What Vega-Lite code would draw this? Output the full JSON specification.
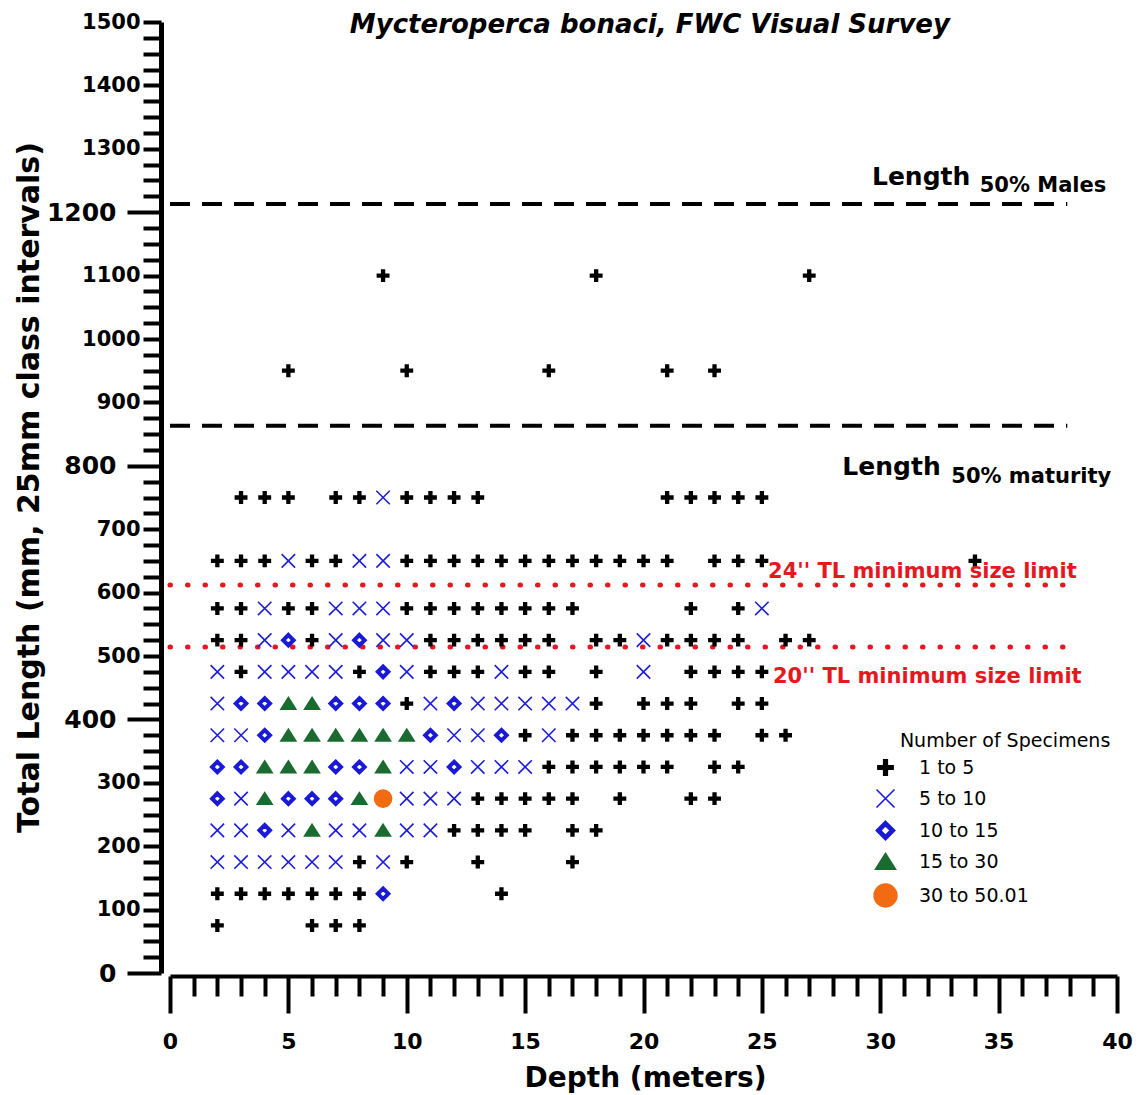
{
  "$schema": "https://vega.github.io/schema/vega-lite/v6.json",
  "autosize": {"type": "none"},
  "padding": {"left": 170, "top": 22, "right": 22, "bottom": 122},
  "width": 947,
  "height": 951,
  "background": "white",
  "config": {"view": {"stroke": null}},
  "encoding": {
    "x": {"field": "depth", "type": "quantitative", "scale": {"domain": [0, 40], "nice": false, "zero": false},
      "axis": {
        "values": [0,1,2,3,4,5,6,7,8,9,10,11,12,13,14,15,16,17,18,19,20,21,22,23,24,25,26,27,28,29,30,31,32,33,34,35,36,37,38,39,40],
        "format": "d",
        "labelExpr": "datum.value % 5 === 0 ? datum.label : ''",
        "offset": 3, "grid": false, "labelOverlap": false, "labelFlush": false,
        "domainWidth": 4, "domainColor": "#000",
        "tickWidth": 4, "tickColor": "#000",
        "tickSize": {"condition": {"test": "datum.value % 5 === 0", "value": 37}, "value": 20},
        "labelFont": "DejaVu Sans", "labelFontWeight": "bold", "labelFontSize": 22, "labelColor": "#000",
        "labelPadding": 18,
        "title": "Depth (meters)", "titleFont": "DejaVu Sans", "titleFontWeight": "bold", "titleFontSize": 28, "titleColor": "#000",
        "titleX": 475, "titleY": 110, "titleBaseline": "alphabetic", "titleAlign": "center"
      }},
    "y": {"field": "length", "type": "quantitative", "scale": {"domain": [0, 1500], "nice": false, "zero": false},
      "axis": {
        "values": [0,25,50,75,100,125,150,175,200,225,250,275,300,325,350,375,400,425,450,475,500,525,550,575,600,625,650,675,700,725,750,775,800,825,850,875,900,925,950,975,1000,1025,1050,1075,1100,1125,1150,1175,1200,1225,1250,1275,1300,1325,1350,1375,1400,1425,1450,1475,1500],
        "format": "d",
        "labelExpr": "datum.value % 100 === 0 ? datum.label : ''",
        "offset": 9, "grid": false, "labelOverlap": false,
        "domainWidth": 5, "domainColor": "#000",
        "tickWidth": 4, "tickColor": "#000",
        "tickSize": {"condition": {"test": "datum.value % 400 === 0", "value": 34}, "value": 18},
        "labelFont": "DejaVu Sans", "labelFontWeight": "bold", "labelColor": "#000",
        "labelFontSize": {"condition": {"test": "datum.value % 400 === 0", "value": 25}, "value": 21},
        "labelPadding": {"condition": {"test": "datum.value % 400 === 0", "value": 11}, "value": 3},
        "title": "Total Length (mm, 25mm class intervals)", "titleFont": "DejaVu Sans", "titleFontWeight": "bold", "titleFontSize": 30, "titleColor": "#000",
        "titleX": -123, "titleY": 465, "titleAngle": -90, "titleBaseline": "alphabetic", "titleAlign": "center"
      }}
  },
  "layer": [
    {
      "data": {"values": [
        {"depth": 0, "depth2": 37.9, "length": 1213},
        {"depth": 0, "depth2": 37.9, "length": 863}
      ]},
      "mark": {"type": "rule", "color": "#000", "strokeWidth": 4, "strokeDash": [20, 12]},
      "encoding": {"x2": {"field": "depth2"}}
    },
    {
      "data": {"values": [
        {"depth": 0, "depth2": 38.2, "length": 612},
        {"depth": 0, "depth2": 38.2, "length": 514}
      ]},
      "mark": {"type": "rule", "color": "#e5171f", "strokeWidth": 5, "strokeCap": "round", "strokeDash": [0.5, 17]},
      "encoding": {"x2": {"field": "depth2"}}
    },
    {
      "data": {"values": [
        {"depth": 9, "length": 1100, "n": "1 to 5"},
        {"depth": 18, "length": 1100, "n": "1 to 5"},
        {"depth": 27, "length": 1100, "n": "1 to 5"},
        {"depth": 5, "length": 950, "n": "1 to 5"},
        {"depth": 10, "length": 950, "n": "1 to 5"},
        {"depth": 16, "length": 950, "n": "1 to 5"},
        {"depth": 21, "length": 950, "n": "1 to 5"},
        {"depth": 23, "length": 950, "n": "1 to 5"},
        {"depth": 3, "length": 750, "n": "1 to 5"},
        {"depth": 4, "length": 750, "n": "1 to 5"},
        {"depth": 5, "length": 750, "n": "1 to 5"},
        {"depth": 7, "length": 750, "n": "1 to 5"},
        {"depth": 8, "length": 750, "n": "1 to 5"},
        {"depth": 9, "length": 750, "n": "5 to 10"},
        {"depth": 10, "length": 750, "n": "1 to 5"},
        {"depth": 11, "length": 750, "n": "1 to 5"},
        {"depth": 12, "length": 750, "n": "1 to 5"},
        {"depth": 13, "length": 750, "n": "1 to 5"},
        {"depth": 21, "length": 750, "n": "1 to 5"},
        {"depth": 22, "length": 750, "n": "1 to 5"},
        {"depth": 23, "length": 750, "n": "1 to 5"},
        {"depth": 24, "length": 750, "n": "1 to 5"},
        {"depth": 25, "length": 750, "n": "1 to 5"},
        {"depth": 2, "length": 650, "n": "1 to 5"},
        {"depth": 3, "length": 650, "n": "1 to 5"},
        {"depth": 4, "length": 650, "n": "1 to 5"},
        {"depth": 5, "length": 650, "n": "5 to 10"},
        {"depth": 6, "length": 650, "n": "1 to 5"},
        {"depth": 7, "length": 650, "n": "1 to 5"},
        {"depth": 8, "length": 650, "n": "5 to 10"},
        {"depth": 9, "length": 650, "n": "5 to 10"},
        {"depth": 10, "length": 650, "n": "1 to 5"},
        {"depth": 11, "length": 650, "n": "1 to 5"},
        {"depth": 12, "length": 650, "n": "1 to 5"},
        {"depth": 13, "length": 650, "n": "1 to 5"},
        {"depth": 14, "length": 650, "n": "1 to 5"},
        {"depth": 15, "length": 650, "n": "1 to 5"},
        {"depth": 16, "length": 650, "n": "1 to 5"},
        {"depth": 17, "length": 650, "n": "1 to 5"},
        {"depth": 18, "length": 650, "n": "1 to 5"},
        {"depth": 19, "length": 650, "n": "1 to 5"},
        {"depth": 20, "length": 650, "n": "1 to 5"},
        {"depth": 21, "length": 650, "n": "1 to 5"},
        {"depth": 23, "length": 650, "n": "1 to 5"},
        {"depth": 24, "length": 650, "n": "1 to 5"},
        {"depth": 25, "length": 650, "n": "1 to 5"},
        {"depth": 34, "length": 650, "n": "1 to 5"},
        {"depth": 2, "length": 575, "n": "1 to 5"},
        {"depth": 3, "length": 575, "n": "1 to 5"},
        {"depth": 4, "length": 575, "n": "5 to 10"},
        {"depth": 5, "length": 575, "n": "1 to 5"},
        {"depth": 6, "length": 575, "n": "1 to 5"},
        {"depth": 7, "length": 575, "n": "5 to 10"},
        {"depth": 8, "length": 575, "n": "5 to 10"},
        {"depth": 9, "length": 575, "n": "5 to 10"},
        {"depth": 10, "length": 575, "n": "1 to 5"},
        {"depth": 11, "length": 575, "n": "1 to 5"},
        {"depth": 12, "length": 575, "n": "1 to 5"},
        {"depth": 13, "length": 575, "n": "1 to 5"},
        {"depth": 14, "length": 575, "n": "1 to 5"},
        {"depth": 15, "length": 575, "n": "1 to 5"},
        {"depth": 16, "length": 575, "n": "1 to 5"},
        {"depth": 17, "length": 575, "n": "1 to 5"},
        {"depth": 22, "length": 575, "n": "1 to 5"},
        {"depth": 24, "length": 575, "n": "1 to 5"},
        {"depth": 25, "length": 575, "n": "5 to 10"},
        {"depth": 2, "length": 525, "n": "1 to 5"},
        {"depth": 3, "length": 525, "n": "1 to 5"},
        {"depth": 4, "length": 525, "n": "5 to 10"},
        {"depth": 5, "length": 525, "n": "10 to 15"},
        {"depth": 6, "length": 525, "n": "1 to 5"},
        {"depth": 7, "length": 525, "n": "5 to 10"},
        {"depth": 8, "length": 525, "n": "10 to 15"},
        {"depth": 9, "length": 525, "n": "5 to 10"},
        {"depth": 10, "length": 525, "n": "5 to 10"},
        {"depth": 11, "length": 525, "n": "1 to 5"},
        {"depth": 12, "length": 525, "n": "1 to 5"},
        {"depth": 13, "length": 525, "n": "1 to 5"},
        {"depth": 14, "length": 525, "n": "1 to 5"},
        {"depth": 15, "length": 525, "n": "1 to 5"},
        {"depth": 16, "length": 525, "n": "1 to 5"},
        {"depth": 18, "length": 525, "n": "1 to 5"},
        {"depth": 19, "length": 525, "n": "1 to 5"},
        {"depth": 20, "length": 525, "n": "5 to 10"},
        {"depth": 21, "length": 525, "n": "1 to 5"},
        {"depth": 22, "length": 525, "n": "1 to 5"},
        {"depth": 23, "length": 525, "n": "1 to 5"},
        {"depth": 24, "length": 525, "n": "1 to 5"},
        {"depth": 26, "length": 525, "n": "1 to 5"},
        {"depth": 27, "length": 525, "n": "1 to 5"},
        {"depth": 2, "length": 475, "n": "5 to 10"},
        {"depth": 3, "length": 475, "n": "1 to 5"},
        {"depth": 4, "length": 475, "n": "5 to 10"},
        {"depth": 5, "length": 475, "n": "5 to 10"},
        {"depth": 6, "length": 475, "n": "5 to 10"},
        {"depth": 7, "length": 475, "n": "5 to 10"},
        {"depth": 8, "length": 475, "n": "1 to 5"},
        {"depth": 9, "length": 475, "n": "10 to 15"},
        {"depth": 10, "length": 475, "n": "5 to 10"},
        {"depth": 11, "length": 475, "n": "1 to 5"},
        {"depth": 12, "length": 475, "n": "1 to 5"},
        {"depth": 13, "length": 475, "n": "1 to 5"},
        {"depth": 14, "length": 475, "n": "5 to 10"},
        {"depth": 15, "length": 475, "n": "1 to 5"},
        {"depth": 16, "length": 475, "n": "1 to 5"},
        {"depth": 18, "length": 475, "n": "1 to 5"},
        {"depth": 20, "length": 475, "n": "5 to 10"},
        {"depth": 22, "length": 475, "n": "1 to 5"},
        {"depth": 23, "length": 475, "n": "1 to 5"},
        {"depth": 24, "length": 475, "n": "1 to 5"},
        {"depth": 25, "length": 475, "n": "1 to 5"},
        {"depth": 2, "length": 425, "n": "5 to 10"},
        {"depth": 3, "length": 425, "n": "10 to 15"},
        {"depth": 4, "length": 425, "n": "10 to 15"},
        {"depth": 5, "length": 425, "n": "15 to 30"},
        {"depth": 6, "length": 425, "n": "15 to 30"},
        {"depth": 7, "length": 425, "n": "10 to 15"},
        {"depth": 8, "length": 425, "n": "10 to 15"},
        {"depth": 9, "length": 425, "n": "10 to 15"},
        {"depth": 10, "length": 425, "n": "1 to 5"},
        {"depth": 11, "length": 425, "n": "5 to 10"},
        {"depth": 12, "length": 425, "n": "10 to 15"},
        {"depth": 13, "length": 425, "n": "5 to 10"},
        {"depth": 14, "length": 425, "n": "5 to 10"},
        {"depth": 15, "length": 425, "n": "5 to 10"},
        {"depth": 16, "length": 425, "n": "5 to 10"},
        {"depth": 17, "length": 425, "n": "5 to 10"},
        {"depth": 18, "length": 425, "n": "1 to 5"},
        {"depth": 20, "length": 425, "n": "1 to 5"},
        {"depth": 21, "length": 425, "n": "1 to 5"},
        {"depth": 22, "length": 425, "n": "1 to 5"},
        {"depth": 24, "length": 425, "n": "1 to 5"},
        {"depth": 25, "length": 425, "n": "1 to 5"},
        {"depth": 2, "length": 375, "n": "5 to 10"},
        {"depth": 3, "length": 375, "n": "5 to 10"},
        {"depth": 4, "length": 375, "n": "10 to 15"},
        {"depth": 5, "length": 375, "n": "15 to 30"},
        {"depth": 6, "length": 375, "n": "15 to 30"},
        {"depth": 7, "length": 375, "n": "15 to 30"},
        {"depth": 8, "length": 375, "n": "15 to 30"},
        {"depth": 9, "length": 375, "n": "15 to 30"},
        {"depth": 10, "length": 375, "n": "15 to 30"},
        {"depth": 11, "length": 375, "n": "10 to 15"},
        {"depth": 12, "length": 375, "n": "5 to 10"},
        {"depth": 13, "length": 375, "n": "5 to 10"},
        {"depth": 14, "length": 375, "n": "10 to 15"},
        {"depth": 15, "length": 375, "n": "1 to 5"},
        {"depth": 16, "length": 375, "n": "5 to 10"},
        {"depth": 17, "length": 375, "n": "1 to 5"},
        {"depth": 18, "length": 375, "n": "1 to 5"},
        {"depth": 19, "length": 375, "n": "1 to 5"},
        {"depth": 20, "length": 375, "n": "1 to 5"},
        {"depth": 21, "length": 375, "n": "1 to 5"},
        {"depth": 22, "length": 375, "n": "1 to 5"},
        {"depth": 23, "length": 375, "n": "1 to 5"},
        {"depth": 25, "length": 375, "n": "1 to 5"},
        {"depth": 26, "length": 375, "n": "1 to 5"},
        {"depth": 2, "length": 325, "n": "10 to 15"},
        {"depth": 3, "length": 325, "n": "10 to 15"},
        {"depth": 4, "length": 325, "n": "15 to 30"},
        {"depth": 5, "length": 325, "n": "15 to 30"},
        {"depth": 6, "length": 325, "n": "15 to 30"},
        {"depth": 7, "length": 325, "n": "10 to 15"},
        {"depth": 8, "length": 325, "n": "10 to 15"},
        {"depth": 9, "length": 325, "n": "15 to 30"},
        {"depth": 10, "length": 325, "n": "5 to 10"},
        {"depth": 11, "length": 325, "n": "5 to 10"},
        {"depth": 12, "length": 325, "n": "10 to 15"},
        {"depth": 13, "length": 325, "n": "5 to 10"},
        {"depth": 14, "length": 325, "n": "5 to 10"},
        {"depth": 15, "length": 325, "n": "5 to 10"},
        {"depth": 16, "length": 325, "n": "1 to 5"},
        {"depth": 17, "length": 325, "n": "1 to 5"},
        {"depth": 18, "length": 325, "n": "1 to 5"},
        {"depth": 19, "length": 325, "n": "1 to 5"},
        {"depth": 20, "length": 325, "n": "1 to 5"},
        {"depth": 21, "length": 325, "n": "1 to 5"},
        {"depth": 23, "length": 325, "n": "1 to 5"},
        {"depth": 24, "length": 325, "n": "1 to 5"},
        {"depth": 2, "length": 275, "n": "10 to 15"},
        {"depth": 3, "length": 275, "n": "5 to 10"},
        {"depth": 4, "length": 275, "n": "15 to 30"},
        {"depth": 5, "length": 275, "n": "10 to 15"},
        {"depth": 6, "length": 275, "n": "10 to 15"},
        {"depth": 7, "length": 275, "n": "10 to 15"},
        {"depth": 8, "length": 275, "n": "15 to 30"},
        {"depth": 9, "length": 275, "n": "30 to 50.01"},
        {"depth": 10, "length": 275, "n": "5 to 10"},
        {"depth": 11, "length": 275, "n": "5 to 10"},
        {"depth": 12, "length": 275, "n": "5 to 10"},
        {"depth": 13, "length": 275, "n": "1 to 5"},
        {"depth": 14, "length": 275, "n": "1 to 5"},
        {"depth": 15, "length": 275, "n": "1 to 5"},
        {"depth": 16, "length": 275, "n": "1 to 5"},
        {"depth": 17, "length": 275, "n": "1 to 5"},
        {"depth": 19, "length": 275, "n": "1 to 5"},
        {"depth": 22, "length": 275, "n": "1 to 5"},
        {"depth": 23, "length": 275, "n": "1 to 5"},
        {"depth": 2, "length": 225, "n": "5 to 10"},
        {"depth": 3, "length": 225, "n": "5 to 10"},
        {"depth": 4, "length": 225, "n": "10 to 15"},
        {"depth": 5, "length": 225, "n": "5 to 10"},
        {"depth": 6, "length": 225, "n": "15 to 30"},
        {"depth": 7, "length": 225, "n": "5 to 10"},
        {"depth": 8, "length": 225, "n": "5 to 10"},
        {"depth": 9, "length": 225, "n": "15 to 30"},
        {"depth": 10, "length": 225, "n": "5 to 10"},
        {"depth": 11, "length": 225, "n": "5 to 10"},
        {"depth": 12, "length": 225, "n": "1 to 5"},
        {"depth": 13, "length": 225, "n": "1 to 5"},
        {"depth": 14, "length": 225, "n": "1 to 5"},
        {"depth": 15, "length": 225, "n": "1 to 5"},
        {"depth": 17, "length": 225, "n": "1 to 5"},
        {"depth": 18, "length": 225, "n": "1 to 5"},
        {"depth": 2, "length": 175, "n": "5 to 10"},
        {"depth": 3, "length": 175, "n": "5 to 10"},
        {"depth": 4, "length": 175, "n": "5 to 10"},
        {"depth": 5, "length": 175, "n": "5 to 10"},
        {"depth": 6, "length": 175, "n": "5 to 10"},
        {"depth": 7, "length": 175, "n": "5 to 10"},
        {"depth": 8, "length": 175, "n": "1 to 5"},
        {"depth": 9, "length": 175, "n": "5 to 10"},
        {"depth": 10, "length": 175, "n": "1 to 5"},
        {"depth": 13, "length": 175, "n": "1 to 5"},
        {"depth": 17, "length": 175, "n": "1 to 5"},
        {"depth": 2, "length": 125, "n": "1 to 5"},
        {"depth": 3, "length": 125, "n": "1 to 5"},
        {"depth": 4, "length": 125, "n": "1 to 5"},
        {"depth": 5, "length": 125, "n": "1 to 5"},
        {"depth": 6, "length": 125, "n": "1 to 5"},
        {"depth": 7, "length": 125, "n": "1 to 5"},
        {"depth": 8, "length": 125, "n": "1 to 5"},
        {"depth": 9, "length": 125, "n": "10 to 15"},
        {"depth": 14, "length": 125, "n": "1 to 5"},
        {"depth": 2, "length": 75, "n": "1 to 5"},
        {"depth": 6, "length": 75, "n": "1 to 5"},
        {"depth": 7, "length": 75, "n": "1 to 5"},
        {"depth": 8, "length": 75, "n": "1 to 5"}
      ]},
      "mark": {"type": "point", "opacity": 1, "strokeWidth": 1.6, "size": 200},
      "encoding": {
        "shape": {"field": "n", "type": "nominal",
          "scale": {"domain": ["1 to 5", "5 to 10", "10 to 15", "15 to 30", "30 to 50.01"],
            "range": [
              "M-0.8,-0.19H-0.19V-0.8H0.19V-0.19H0.8V0.19H0.19V0.8H-0.19V0.19H-0.8Z",
              "M-0.95,-0.95L0.95,0.95M-0.95,0.95L0.95,-0.95",
              "M0,-0.98L0.98,0L0,0.98L-0.98,0ZM0,-0.5L-0.5,0L0,0.5L0.5,0Z",
              "M0,-0.85L1.05,0.8L-1.05,0.8Z",
              "M-1.2,0A1.2,1.2,0,1,0,1.2,0A1.2,1.2,0,1,0,-1.2,0Z"
            ]},
          "legend": {"orient": "none", "legendX": 705, "legendY": 735, "title": null, "padding": 0, "labelFont": "DejaVu Sans", "labelFontSize": 19, "labelColor": "#000", "symbolSize": 360, "rowPadding": 7, "labelOffset": 23, "symbolStrokeWidth": 1.6}},
        "fill": {"field": "n", "type": "nominal",
          "scale": {"domain": ["1 to 5", "5 to 10", "10 to 15", "15 to 30", "30 to 50.01"],
            "range": ["#000000", "transparent", "#1a1ad6", "#1b6b30", "#f26b12"]},
          "legend": {"orient": "none", "legendX": 705, "legendY": 735, "title": null, "padding": 0, "labelFont": "DejaVu Sans", "labelFontSize": 19, "labelColor": "#000", "symbolSize": 360, "rowPadding": 7, "labelOffset": 23, "symbolStrokeWidth": 1.6}},
        "stroke": {"field": "n", "type": "nominal",
          "scale": {"domain": ["1 to 5", "5 to 10", "10 to 15", "15 to 30", "30 to 50.01"],
            "range": ["#000000", "#1d1dd9", "#1a1ad6", "#1b6b30", "#f26b12"]},
          "legend": {"orient": "none", "legendX": 705, "legendY": 735, "title": null, "padding": 0, "labelFont": "DejaVu Sans", "labelFontSize": 19, "labelColor": "#000", "symbolSize": 360, "rowPadding": 7, "labelOffset": 23, "symbolStrokeWidth": 1.6}}
      }
    },
    {
      "data": {"values": [
        {"depth": 20.27, "length": 1482.6, "t": "Mycteroperca bonaci, FWC Visual Survey"}
      ]},
      "mark": {"type": "text", "align": "center", "baseline": "alphabetic", "font": "DejaVu Sans", "fontWeight": "bold", "fontStyle": "italic", "fontSize": 26, "color": "#000"},
      "encoding": {"text": {"field": "t"}}
    },
    {
      "data": {"values": [
        {"depth": 29.65, "length": 1243, "t": "Length"},
        {"depth": 28.4, "length": 785, "t": "Length"}
      ]},
      "mark": {"type": "text", "align": "left", "baseline": "alphabetic", "font": "DejaVu Sans", "fontWeight": "bold", "fontSize": 25, "color": "#000"},
      "encoding": {"text": {"field": "t"}}
    },
    {
      "data": {"values": [
        {"depth": 34.2, "length": 1232, "t": "50% Males"},
        {"depth": 33.0, "length": 773, "t": "50% maturity"}
      ]},
      "mark": {"type": "text", "align": "left", "baseline": "alphabetic", "font": "DejaVu Sans", "fontWeight": "bold", "fontSize": 21, "color": "#000"},
      "encoding": {"text": {"field": "t"}}
    },
    {
      "data": {"values": [
        {"depth": 25.26, "length": 623, "t": "24'' TL minimum size limit"},
        {"depth": 25.47, "length": 457, "t": "20'' TL minimum size limit"}
      ]},
      "mark": {"type": "text", "align": "left", "baseline": "alphabetic", "font": "DejaVu Sans", "fontWeight": "bold", "fontSize": 21, "color": "#e5171f"},
      "encoding": {"text": {"field": "t"}}
    },
    {
      "data": {"values": [
        {"depth": 30.83, "length": 356.4, "t": "Number of Specimens"}
      ]},
      "mark": {"type": "text", "align": "left", "baseline": "alphabetic", "font": "DejaVu Sans", "fontSize": 19, "color": "#000"},
      "encoding": {"text": {"field": "t"}}
    }
  ]
}
